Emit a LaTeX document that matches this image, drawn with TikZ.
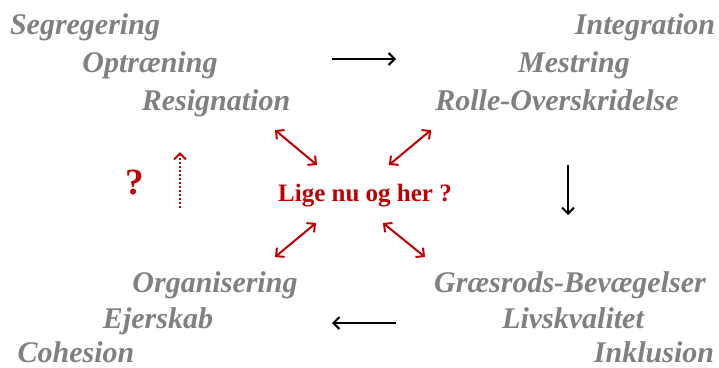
\documentclass[tikz,border=0pt]{standalone}
\usepackage{fontspec}
\setmainfont{Liberation Serif}
\usetikzlibrary{arrows.meta}
\definecolor{txtgray}{RGB}{128,128,128}
\definecolor{darkred}{RGB}{192,0,0}
\tikzset{
  term/.style={font=\fontsize{30}{30}\selectfont\bfseries\itshape, text=txtgray, inner sep=0pt, anchor=base},
  blackarrow/.style={line width=2pt, -{Straight Barb[length=6pt,width=12pt,line width=2pt]}},
  redarrow/.style={draw=darkred, line width=2pt, {Straight Barb[length=6pt,width=12pt,line width=2pt]}-{Straight Barb[length=6pt,width=12pt,line width=2pt]}},
}
\begin{document}
\begin{tikzpicture}[x=1pt,y=-1pt]
\useasboundingbox (0,0) rectangle (719,367);
% top-left group
\node[term] (seg) at (85,34) {Segregering};
\node[term] (opt) at (150,72) {Optræning};
\node[term] (res) at (216,110) {Resignation};
% top-right group
\node[term] (int) at (645,34) {Integration};
\node[term] (mes) at (574,72) {Mestring};
\node[term] (rol) at (557,110) {Rolle-Overskridelse};
% bottom-left group
\node[term] (org) at (215,292) {Organisering};
\node[term] (ejr) at (158,328) {Ejerskab};
\node[term, text depth=0pt] (coh) at (76,362) {Cohesion};
% bottom-right group
\node[term] (gra) at (570,292) {Græsrods-Bevægelser};
\node[term] (liv) at (573,328) {Livskvalitet};
\node[term, text depth=0pt] (ink) at (654,362) {Inklusion};
% center
\node[font=\fontsize{25}{25}\selectfont\bfseries, text=darkred, inner sep=0pt, anchor=base] (ctr) at (365,201) {Lige nu og her ?};
\node[font=\fontsize{37}{37}\selectfont\bfseries, text=darkred, inner sep=0pt, anchor=base] (q) at (135,194) {?};
% black arrows
\coordinate (t1) at (332,59); \coordinate (t2) at (396,59);
\coordinate (r1) at (568,165); \coordinate (r2) at (568,215);
\coordinate (b1) at (396,323); \coordinate (b2) at (332,323);
\draw[blackarrow] (t1) -- (t2);
\draw[blackarrow] (r1) -- (r2);
\draw[blackarrow] (b1) -- (b2);
% red arrows
\coordinate (a1) at (275,130); \coordinate (a2) at (317,165);
\coordinate (c1) at (431,130); \coordinate (c2) at (389,165);
\coordinate (d1) at (316,223); \coordinate (d2) at (275,257);
\coordinate (e1) at (383,223); \coordinate (e2) at (425,257);
\draw[redarrow] (a1) -- (a2);
\draw[redarrow] (c1) -- (c2);
\draw[redarrow] (d1) -- (d2);
\draw[redarrow] (e1) -- (e2);
% dotted arrow
\coordinate (u1) at (180,208); \coordinate (u2) at (180,152);
\draw[draw=darkred, line width=2pt, dotted, -{Straight Barb[length=6pt,width=12pt,line width=2pt]}] (u1) -- (u2);
\end{tikzpicture}
\end{document}
